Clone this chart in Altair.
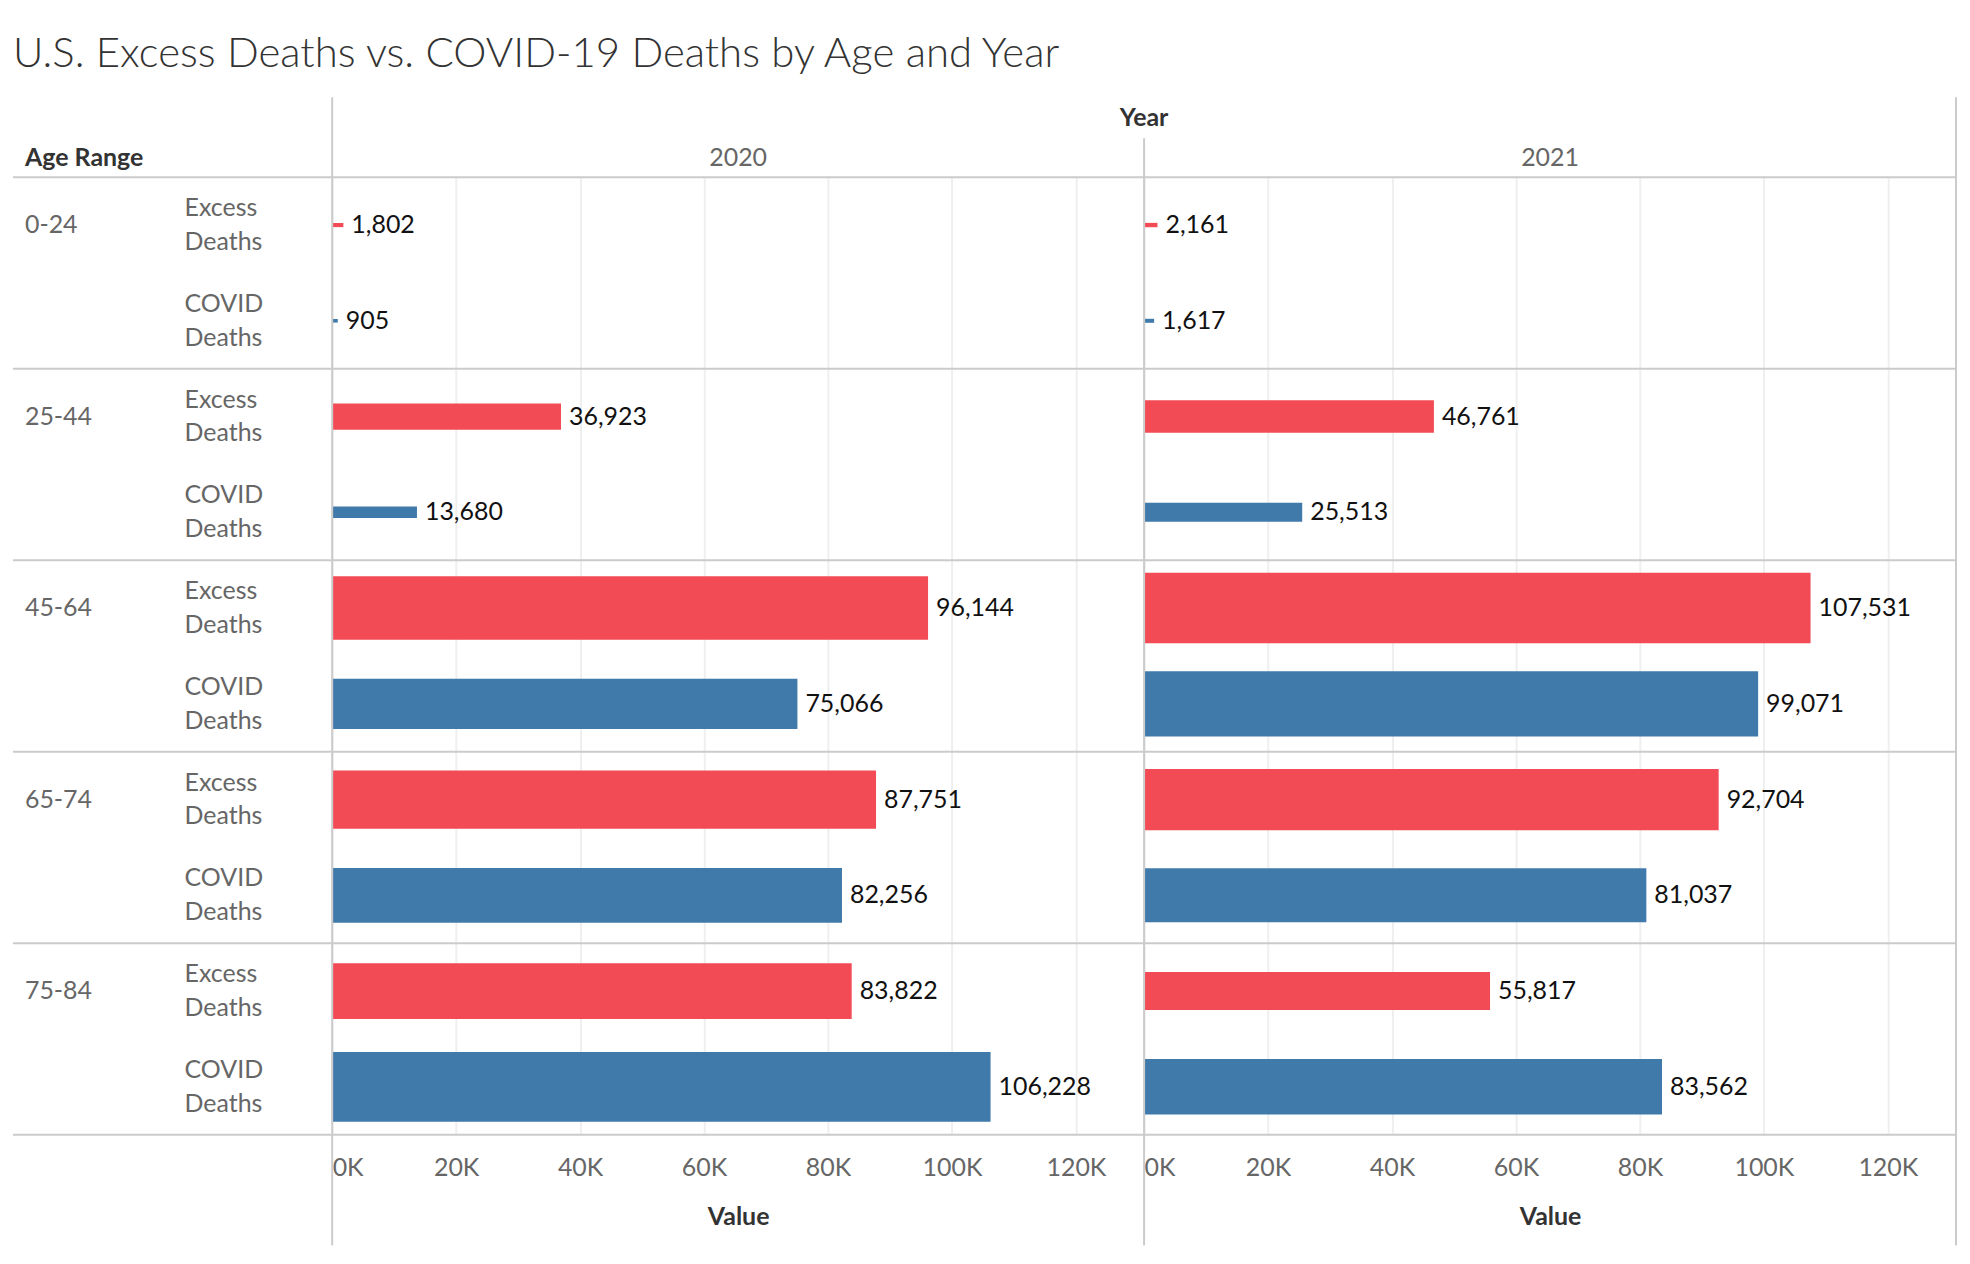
import altair as alt
import pandas as pd

title_text = "U.S. Excess Deaths vs. COVID-19 Deaths by Age and Year"
ages = ["0-24", "25-44", "45-64", "65-74", "75-84"]
measures = ["Excess Deaths", "COVID Deaths"]
measure_lines = ["Excess\nDeaths", "COVID\nDeaths"]
years = ["2020", "2021"]
excess_2020 = [1802, 36923, 96144, 87751, 83822]
covid_2020 = [905, 13680, 75066, 82256, 106228]
excess_2021 = [2161, 46761, 107531, 92704, 55817]
covid_2021 = [1617, 25513, 99071, 81037, 83562]
tick_values = [0, 20000, 40000, 60000, 80000, 100000, 120000]
x_max = 131000

FONT = "Lato"
RED = "#F34B55"
BLUE = "#3F7AAB"
SEP = "#CBCBCB"
GRID = "#EFEFEF"
GRAY = "#666666"
DARK = "#333333"

PLOT_H = 960
LAB_W = 325
P1_W = 814
P2_W = 814
FS = 25

values = {
    "2020": {"Excess Deaths": excess_2020, "COVID Deaths": covid_2020},
    "2021": {"Excess Deaths": excess_2021, "COVID Deaths": covid_2021},
}
keys = [f"{a} | {m}" for a in ages for m in measures]

rows = []
for yr in years:
    for i, a in enumerate(ages):
        for m in measures:
            rows.append({"year": yr, "age": a, "measure": m,
                         "key": f"{a} | {m}", "value": values[yr][m][i]})
df = pd.DataFrame(rows)

label_df = pd.DataFrame({
    "key": keys,
    "age": [a for a in ages for m in measures],
    "mlabel": [ml for a in ages for ml in measure_lines],
})
age_df = pd.DataFrame({"key": [f"{a} | {measures[0]}" for a in ages], "age": ages})
bottom_df = pd.DataFrame({"key": [keys[-1]]})


def yenc(band=None):
    kw = dict(scale=alt.Scale(domain=keys, paddingInner=0, paddingOuter=0),
              axis=None, title=None)
    if band is not None:
        kw["bandPosition"] = band
    return alt.Y("key:N", **kw)


def separators(x=None, x2=None):
    top = alt.Chart(age_df).mark_rule(color=SEP, strokeWidth=2)
    bot = alt.Chart(bottom_df).mark_rule(color=SEP, strokeWidth=2)
    if x is None:
        return [top.encode(y=yenc(0)), bot.encode(y=yenc(1))]
    return [top.encode(y=yenc(0), x=alt.value(x), x2=alt.value(x2)),
            bot.encode(y=yenc(1), x=alt.value(x), x2=alt.value(x2))]


one = pd.DataFrame({"t": ["x"]})


def header(text, x, y, bold=False, align="center"):
    return alt.Chart(pd.DataFrame({"t": [text]})).mark_text(
        font=FONT, fontSize=FS, color=DARK if bold else GRAY,
        fontWeight="bold" if bold else "normal", align=align, baseline="middle"
    ).encode(text="t:N", x=alt.value(x), y=alt.value(y))


def vline(x, y_top):
    return alt.Chart(one).mark_rule(color=SEP, strokeWidth=2).encode(
        x=alt.value(x), y=alt.value(y_top), y2=alt.value(PLOT_H + 111))


# ---- row labels ----
age_text = alt.Chart(age_df).mark_text(
    font=FONT, fontSize=FS, color=GRAY, align="left", baseline="middle"
).encode(y=yenc(), x=alt.value(17), text="age:N")
meas_text = alt.Chart(label_df).mark_text(
    font=FONT, fontSize=FS, color=GRAY, align="left", baseline="middle",
    lineBreak="\n", lineHeight=34, dy=-17
).encode(y=yenc(), x=alt.value(177), text="mlabel:N")

labels_chart = alt.layer(
    *separators(5, LAB_W), age_text, meas_text,
    header("Age Range", 17, -19, bold=True, align="left"),
).properties(width=LAB_W, height=PLOT_H)


def panel(year, width, extra):
    d = df[df["year"] == year]
    xscale = alt.Scale(domain=[0, x_max], nice=False, zero=True)
    xaxis = alt.Axis(
        values=tick_values, labelExpr="format(datum.value / 1000, 'd') + 'K'",
        grid=True, gridColor=GRID, gridWidth=2, domain=False, ticks=False,
        tickSize=0, labelFont=FONT, labelFontSize=FS, labelColor=GRAY,
        labelPadding=21, labelFlush=1, title="Value", titleFont=FONT,
        titleFontSize=FS, titleFontWeight="bold", titleColor=DARK,
        titlePadding=24,
    )
    base = alt.Chart(d)
    bars = base.mark_bar().encode(
        x=alt.X("value:Q", scale=xscale, axis=xaxis),
        y=yenc(),
        size=alt.Size("value:Q", scale=alt.Scale(domain=[0, 100000], range=[3, 66]),
                      legend=None),
        color=alt.Color("measure:N", scale=alt.Scale(domain=measures, range=[RED, BLUE]),
                        legend=None),
    )
    text = base.mark_text(
        font=FONT, fontSize=FS, color="#111111", align="left", baseline="middle", dx=8
    ).encode(
        x=alt.X("value:Q", scale=xscale),
        y=yenc(),
        text=alt.Text("value:Q", format=","),
    )
    return alt.layer(
        *separators(), bars, text, header(year, width / 2, -19), *extra
    ).properties(width=width, height=PLOT_H)


p2020 = panel("2020", P1_W, [vline(0, -80)])
p2021 = panel("2021", P2_W, [vline(0, -39), vline(P2_W, -80),
                             header("Year", 0, -59, bold=True)])

chart = alt.hconcat(labels_chart, p2020, p2021, spacing=0, bounds="flush").properties(
    title=alt.TitleParams(
        title_text, anchor="start", font=FONT, fontSize=42, fontWeight=300,
        color=DARK, offset=20, dx=5,
    ),
    padding={"left": 0, "top": 24, "right": 5, "bottom": 5},
).configure_view(stroke=None)

chart.save("out.html", embed_options={"renderer": "svg", "actions": False})
